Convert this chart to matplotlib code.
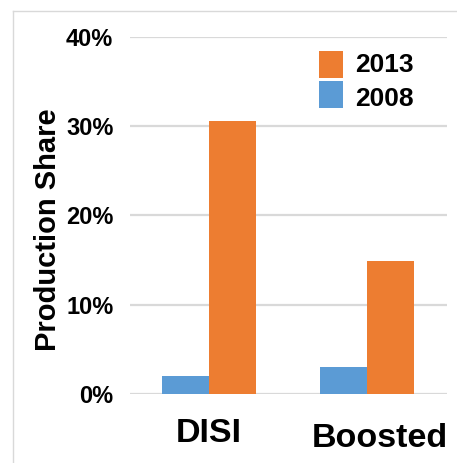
import matplotlib
matplotlib.use("Agg")
import matplotlib.pyplot as plt
import matplotlib.transforms as mtransforms
from matplotlib.lines import Line2D
import numpy as np

plt.rcParams['font.family'] = ['Liberation Sans', 'DejaVu Sans']
plt.rcParams['font.weight'] = 'bold'

categories = ["DISI", "Boosted"]
share_2008 = [0.020, 0.030]
share_2013 = [0.305, 0.149]
series_labels = ["2008", "2013"]
y_ticks = [0.0, 0.1, 0.2, 0.3, 0.4]
y_tick_labels = ["0%", "10%", "20%", "30%", "40%"]

c_2008 = "#5B9BD5"
c_2013 = "#ED7D31"
grid_c = "#D9D9D9"

W, H = 457, 463
fig = plt.figure(figsize=(W / 100, H / 100), dpi=100)
ax = fig.add_axes([130 / W, (H - 394) / H, 317 / W, (394 - 36.5) / H])

x = np.arange(len(categories))
bw = 0.297
b08 = ax.bar(x - bw / 2, share_2008, width=bw, color=c_2008, label=series_labels[0], zorder=2)
b13 = ax.bar(x + bw / 2, share_2013, width=bw, color=c_2013, label=series_labels[1], zorder=2)

ax.set_xlim(-0.5, 1.506)
ax.set_ylim(0, 0.4)
ax.set_yticks(y_ticks)
ax.set_yticklabels(y_tick_labels, fontsize=17, fontweight='bold')
ax.set_xticks(x)
ax.set_xticklabels(categories, fontsize=24.5, fontweight='bold')
ax.tick_params(axis='y', length=0, pad=12)
ax.tick_params(axis='x', length=0, pad=17)

ax.set_axisbelow(True)
ax.yaxis.grid(True, color=grid_c, linewidth=1.6)
ax.xaxis.grid(False)
for s in ax.spines.values():
    s.set_visible(False)

# nudge the second category label to the right and slightly down
lbl = ax.get_xticklabels()[1]
lbl.set_transform(lbl.get_transform() +
                  mtransforms.ScaledTranslation(13 / 100, -5 / 100, fig.dpi_scale_trans))

ax.set_ylabel("Production Share", fontsize=21, fontweight='bold')
ax.yaxis.set_label_coords(-0.215, 0.459)

leg = ax.legend(handles=[b13, b08], labels=[series_labels[1], series_labels[0]],
                loc='upper left', bbox_to_anchor=((319 - 130) / 317, 1 - (51 - 36.5) / 357.5),
                frameon=False, prop={'weight': 'bold', 'size': 19},
                handlelength=0.91, handleheight=1.196, handletextpad=0.45,
                labelspacing=0.11, borderpad=0, borderaxespad=0)
# spread the legend labels a little further apart than the swatches
for t, dy in zip(leg.get_texts(), (1, -2)):
    t.set_transform(t.get_transform() +
                    mtransforms.ScaledTranslation(0, dy / 100, fig.dpi_scale_trans))

# chart-area border along the top and left edges
fig.add_artist(Line2D([12.5 / W, 12.5 / W], [0, 1 - 10.5 / H], transform=fig.transFigure,
                      color=grid_c, linewidth=1.0))
fig.add_artist(Line2D([12.5 / W, 1], [1 - 10.5 / H, 1 - 10.5 / H], transform=fig.transFigure,
                      color=grid_c, linewidth=1.0))

fig.savefig("out.png", dpi=100)
